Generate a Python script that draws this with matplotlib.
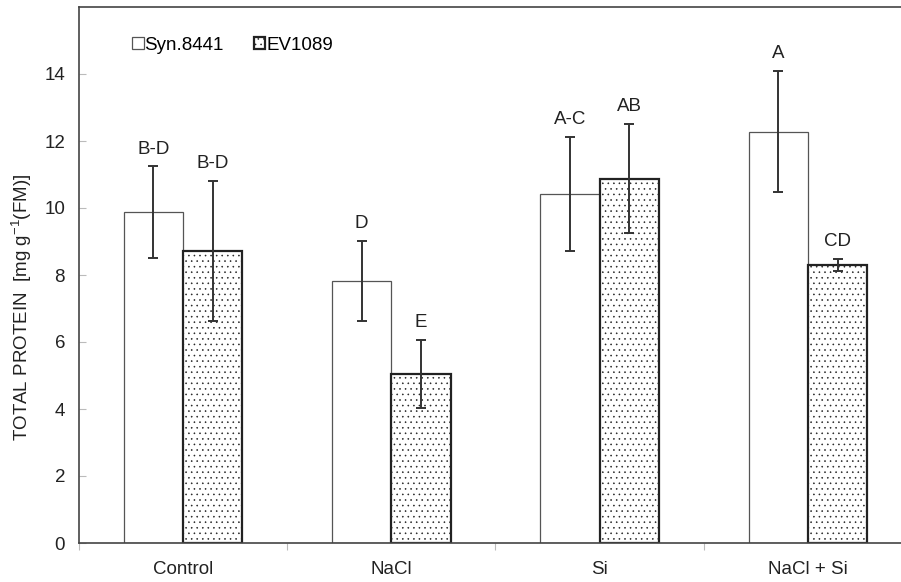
import matplotlib.pyplot as plt
import numpy as np

plt.rcParams['font.family'] = ['Liberation Sans', 'DejaVu Sans']
plt.rcParams['hatch.color'] = '#a0a0a0'
plt.rcParams['hatch.linewidth'] = 0.4

treatments = ['Control', 'NaCl', 'Si', 'NaCl + Si']
syn_mean = [9.87, 7.83, 10.41, 12.28]
syn_err = [1.37, 1.19, 1.70, 1.81]
ev_mean = [8.71, 5.04, 10.88, 8.30]
ev_err = [2.09, 1.02, 1.63, 0.17]
syn_letters = ['B-D', 'D', 'A-C', 'A']
ev_letters = ['B-D', 'E', 'AB', 'CD']


def build_plot(output_file):
    fig = plt.figure(figsize=(9.01, 5.82), dpi=100)
    # axes runs a bit past the right edge of the figure, like the original crop
    ax = fig.add_axes([79 / 901, 1 - 543 / 582, 833 / 901, 536 / 582])

    x = np.arange(len(treatments))
    w = 0.285
    fs = 13.5

    ax.bar(x - w / 2, syn_mean, w, color='white', edgecolor='#555555',
           linewidth=0.9, label='Syn.8441', zorder=2)
    ax.bar(x + w / 2, ev_mean, w, color='white', edgecolor='#222222',
           linewidth=1.6, hatch='...', label='EV1089', zorder=2)

    ax.errorbar(x - w / 2, syn_mean, yerr=syn_err, fmt='none', ecolor='#333333',
                elinewidth=1.4, capsize=3.5, capthick=1.4, zorder=3)
    ax.errorbar(x + w / 2, ev_mean, yerr=ev_err, fmt='none', ecolor='#333333',
                elinewidth=1.4, capsize=3.5, capthick=1.4, zorder=3)

    for xi, m, e, t in zip(x - w / 2, syn_mean, syn_err, syn_letters):
        ax.annotate(t, (xi, m + e), xytext=(0, 12.5), textcoords='offset points',
                    ha='center', va='center', fontsize=fs, color='#222222')
    for xi, m, e, t in zip(x + w / 2, ev_mean, ev_err, ev_letters):
        ax.annotate(t, (xi, m + e), xytext=(0, 12.5), textcoords='offset points',
                    ha='center', va='center', fontsize=fs, color='#222222')

    ax.set_xlim(-0.5, 3.5)
    ax.set_ylim(0, 16)
    ax.set_yticks(range(0, 15, 2))
    ax.tick_params(axis='y', direction='in', length=5, color='#bbbbbb',
                   labelsize=fs, pad=10, labelcolor='#222222')

    ax.set_xticks(np.arange(-0.5, 4, 1))
    ax.set_xticklabels([])
    ax.set_xticks(x, minor=True)
    ax.set_xticklabels(treatments, minor=True)
    ax.tick_params(axis='x', which='major', direction='out', length=5, color='#bbbbbb')
    ax.tick_params(axis='x', which='minor', length=0, labelsize=fs, pad=13,
                   labelcolor='#222222')

    for side in ['left', 'bottom', 'top']:
        ax.spines[side].set_color('#444444')
        ax.spines[side].set_linewidth(1.2)
    ax.spines['right'].set_visible(False)

    ax.set_ylabel('TOTAL PROTEIN  [mg g$^{\\mathregular{-1}}$(FM)]', fontsize=fs,
                  color='#222222')
    ax.yaxis.set_label_coords(-0.054, 0.44)

    ax.legend(loc='upper left', bbox_to_anchor=(0.055, 0.958), ncol=2, frameon=False,
              fontsize=fs, handlelength=0.6, handleheight=0.6, handletextpad=0.05,
              columnspacing=1.6, borderaxespad=0)

    fig.savefig(output_file, dpi=100)
    print(f"Plot saved: {output_file}")


if __name__ == "__main__":
    build_plot('out.png')
